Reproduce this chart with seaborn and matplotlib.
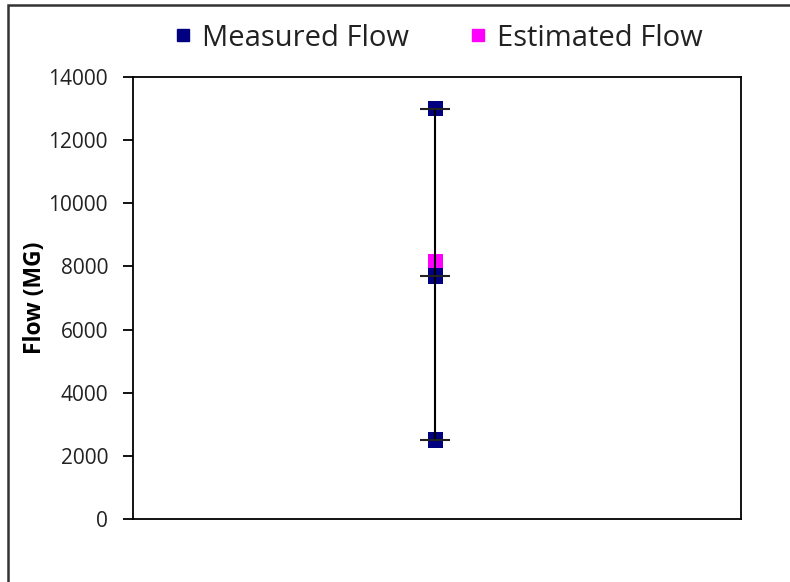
import matplotlib
matplotlib.use("Agg")
import matplotlib.pyplot as plt
from matplotlib.patches import Rectangle
from matplotlib.lines import Line2D
import seaborn as sns
import pandas as pd

# Flow values (million gallons)
category = ["Site"]
measured_high = [13000]
measured_close = [7700]
measured_low = [2500]
estimated = [8150]
y_ticks = [0, 2000, 4000, 6000, 8000, 10000, 12000, 14000]

sns.set_theme(style="white")
plt.rcParams["font.family"] = ["Open Sans", "DejaVu Sans"]

fig = plt.figure(figsize=(7.9, 5.82), dpi=100)
ax = fig.add_axes([133 / 790, 1 - 519 / 582, (741 - 133) / 790, (519 - 77) / 582])

x_pos = [1]
measured = pd.DataFrame({
    "x": x_pos * 3,
    "flow": measured_high + measured_close + measured_low,
})
est = pd.DataFrame({"x": x_pos, "flow": estimated})

sns.scatterplot(data=est, x="x", y="flow", marker="s", s=125, color="#FF00FF",
                edgecolor="none", ax=ax, zorder=2)
sns.scatterplot(data=measured, x="x", y="flow", marker="s", s=125, color="#000080",
                edgecolor="none", ax=ax, zorder=3)
# high-low line and tick marks
ax.vlines(x_pos, measured_low, measured_high, color="black", lw=1.5, zorder=4)
ax.scatter(measured["x"], measured["flow"], marker="_", s=480, color="#222222",
           linewidths=1.5, zorder=5)

ax.set_xlim(0, 2.01)
ax.set_ylim(0, 14000)
ax.set_yticks(y_ticks)
ax.set_yticklabels([str(v) for v in y_ticks], fontsize=15, color="#222222")
ax.set_xticks([])
ax.set_xlabel("")
ax.set_ylabel("Flow (MG)", fontsize=16.5, fontweight="bold", color="black", labelpad=1)
ax.tick_params(axis="y", direction="out", length=7, width=1.3, color="black",
               left=True, pad=11)
for sp in ax.spines.values():
    sp.set_color("black")
    sp.set_linewidth(1.3)

handles = [
    Line2D([], [], marker="s", linestyle="none", color="#000080", markersize=9),
    Line2D([], [], marker="s", linestyle="none", color="#FF00FF", markersize=9),
]
fig.legend(handles, ["Measured Flow", "Estimated Flow"], loc="center",
           bbox_to_anchor=(437 / 790, 1 - 38 / 582), ncol=2, frameon=False,
           fontsize=21, handletextpad=0.25, columnspacing=1.95, handlelength=0.8,
           labelcolor="#222222")

# outer chart-area frame
fig.patches.append(Rectangle((8 / 790, -0.1), 1.2, 1 - 5 / 582 + 0.1,
                             transform=fig.transFigure, fill=False,
                             lw=1.8, edgecolor="#333333"))

fig.savefig("out.png", dpi=100)
